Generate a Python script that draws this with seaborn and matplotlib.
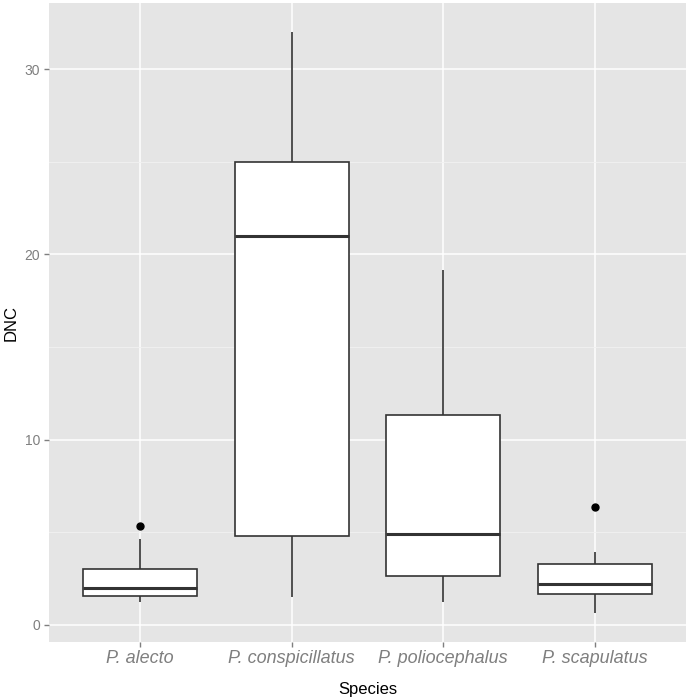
import pandas as pd
import matplotlib.pyplot as plt
import seaborn as sns

# values (9 obs per species, quartiles at obs 3/5/7)
species = ['P. alecto', 'P. conspicillatus', 'P. poliocephalus', 'P. scapulatus']
alecto = [1.23, 1.40, 1.55, 1.80, 1.98, 2.50, 3.02, 4.62, 5.34]
conspicillatus = [1.50, 3.00, 4.80, 12.0, 21.0, 23.0, 25.0, 28.0, 32.0]
poliocephalus = [1.22, 2.00, 2.64, 3.80, 4.89, 8.00, 11.33, 15.0, 19.16]
scapulatus = [0.63, 1.20, 1.69, 2.00, 2.23, 2.80, 3.29, 3.96, 6.38]

df = pd.DataFrame({
    'Species': [species[0]] * len(alecto) + [species[1]] * len(conspicillatus)
               + [species[2]] * len(poliocephalus) + [species[3]] * len(scapulatus),
    'DNC': alecto + conspicillatus + poliocephalus + scapulatus,
})

plt.rcParams['font.family'] = ['Liberation Sans', 'DejaVu Sans']

fig = plt.figure(figsize=(6.88, 6.99), dpi=100)
ax = fig.add_axes([0.0712, 0.0815, 0.9258, 0.9142])
ax.set_facecolor('#E5E5E5')

sns.boxplot(data=df, x='Species', y='DNC', order=species, ax=ax,
            color='white', linecolor='#333333', linewidth=1.2, width=0.75,
            showcaps=False, whis=1.5,
            medianprops=dict(linewidth=2.2, color='#333333'),
            flierprops=dict(marker='o', markerfacecolor='black',
                            markeredgecolor='black', markersize=5))

ax.set_xlim(-0.6, 3.6)
ax.set_ylim(-0.92, 33.57)
ax.set_yticks([0, 10, 20, 30])
ax.set_yticks([5, 15, 25], minor=True)
ax.set_axisbelow(True)
ax.grid(which='major', color='white', linewidth=1.1)
ax.grid(which='minor', axis='y', color='#F2F2F2', linewidth=0.6)
for s in ax.spines.values():
    s.set_visible(False)

ax.tick_params(which='major', color='#7F7F7F', length=3.5, width=1)
ax.tick_params(which='minor', length=0)
ax.tick_params(axis='y', labelcolor='#7F7F7F', labelsize=10, pad=3)
ax.tick_params(axis='x', labelcolor='#7F7F7F', labelsize=13, pad=2)
for lab in ax.get_xticklabels():
    lab.set_fontstyle('italic')

ax.set_xlabel('Species', fontsize=12, color='black', labelpad=11)
ax.set_ylabel('DNC', fontsize=12, color='black', labelpad=4)

fig.savefig('out.png', dpi=100, facecolor='white')
